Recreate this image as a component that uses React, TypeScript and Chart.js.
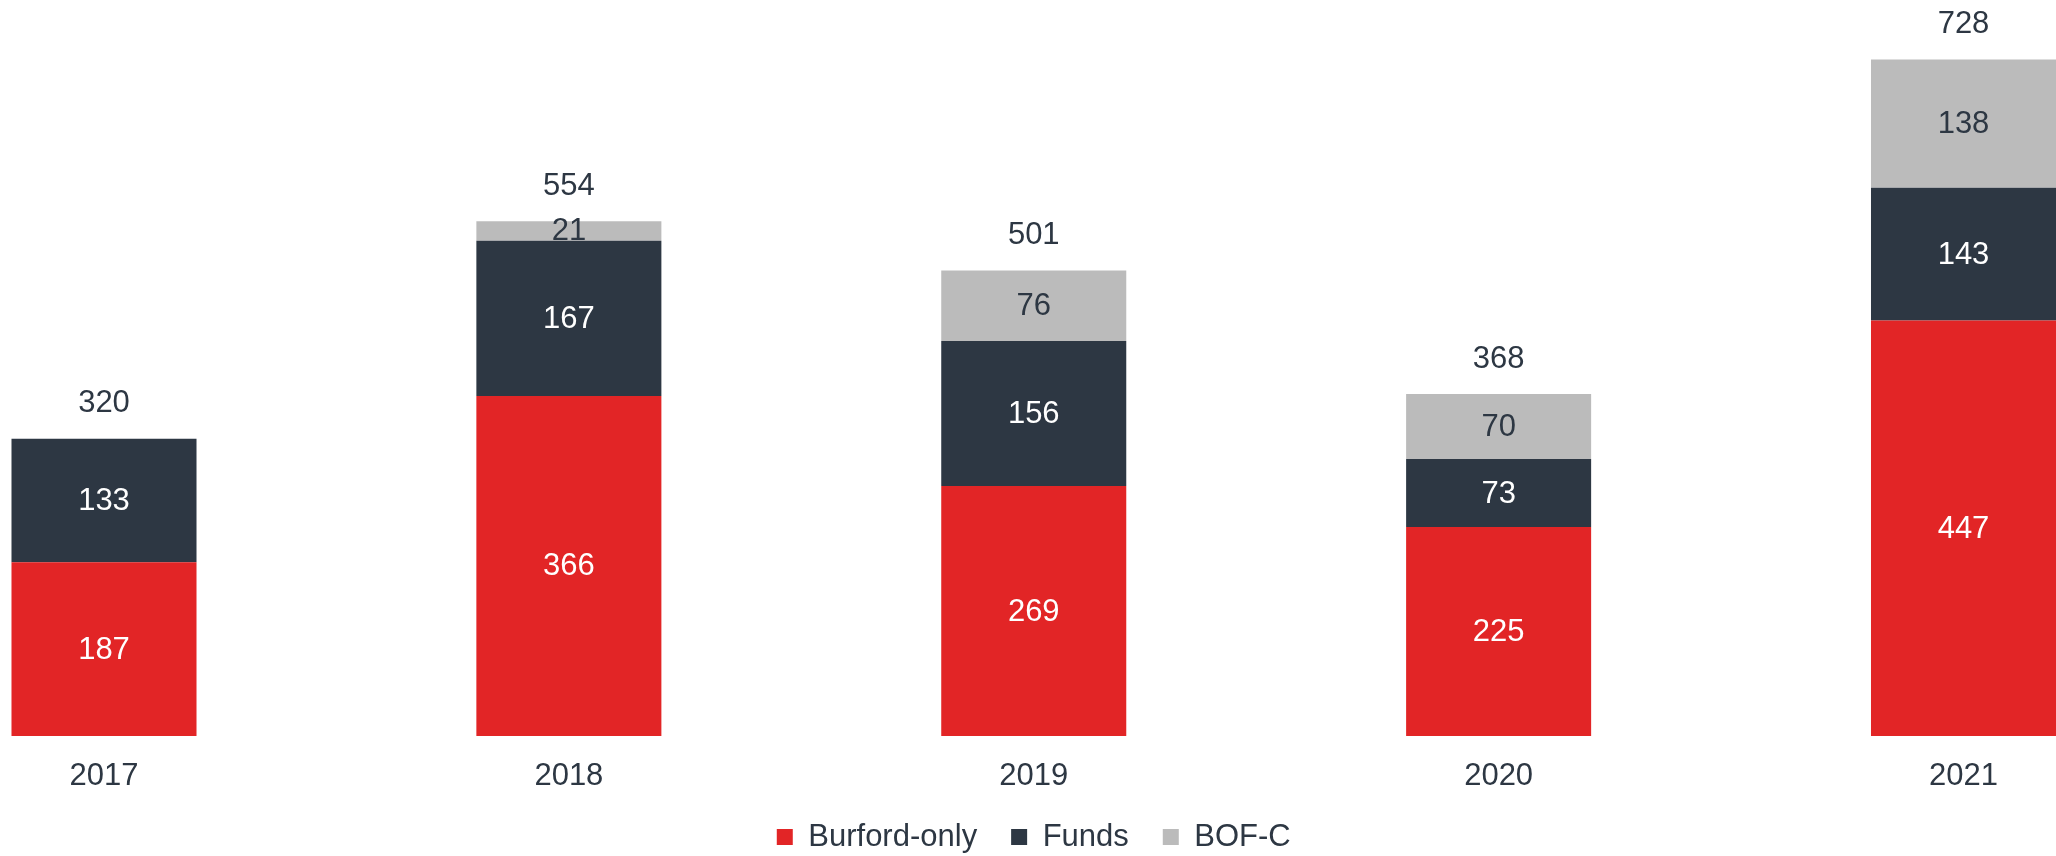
import React, { useEffect, useRef } from "react";
import { Chart, registerables } from "chart.js";

Chart.register(...registerables);

const categories = ["2017", "2018", "2019", "2020", "2021"];
const burfordOnly = [187, 366, 269, 225, 447];
const funds = [133, 167, 156, 73, 143];
const bofc = [0, 21, 76, 70, 138];

const RED = "#E22526";
const DARK = "#2D3743";
const GREY = "#BBBBBB";
const FONT = "'Liberation Sans', Arial, sans-serif";
const FS = 31;

const labelColors = ["#FFFFFF", "#FFFFFF", DARK];

const valueLabels = {
  id: "valueLabels",
  afterDatasetsDraw(chart: any) {
    const ctx = chart.ctx;
    ctx.save();
    ctx.font = `${FS}px ${FONT}`;
    ctx.textAlign = "center";
    ctx.textBaseline = "middle";
    chart.data.datasets.forEach((ds: any, di: number) => {
      const meta = chart.getDatasetMeta(di);
      meta.data.forEach((bar: any, i: number) => {
        const v = ds.data[i];
        if (!v) return;
        const { x, y, base } = bar.getProps(["x", "y", "base"], true);
        ctx.fillStyle = labelColors[di];
        ctx.fillText(String(v), x, (y + base) / 2 + 1);
      });
    });
    ctx.fillStyle = DARK;
    categories.forEach((_c, i) => {
      const total = burfordOnly[i] + funds[i] + bofc[i];
      const yTop = chart.scales.y.getPixelForValue(total);
      const x = chart.scales.x.getPixelForValue(i);
      ctx.fillText(String(total), x, yTop - 35);
    });
    ctx.restore();
  },
};

export default function App() {
  const ref = useRef<HTMLCanvasElement>(null);
  useEffect(() => {
    if (!ref.current) return;
    const chart = new Chart(ref.current, {
      type: "bar",
      data: {
        labels: categories,
        datasets: [
          { label: "Burford-only", data: burfordOnly, backgroundColor: RED, clip: false as any },
          { label: "Funds", data: funds, backgroundColor: DARK, clip: false as any },
          { label: "BOF-C", data: bofc, backgroundColor: GREY, clip: false as any },
        ],
      },
      options: {
        animation: false,
        responsive: true,
        maintainAspectRatio: false,
        layout: { padding: { left: 104, right: 92.5, top: 0, bottom: -6.5 } },
        datasets: { bar: { categoryPercentage: 1, barPercentage: 0.398 } },
        scales: {
          x: {
            stacked: true,
            offset: false,
            grid: { display: false, drawTicks: false },
            border: { display: false },
            ticks: { color: DARK, font: { size: FS, family: FONT }, padding: 22, maxRotation: 0 },
            afterFit: (scale: any) => {
              scale.height = 51.5;
            },
          },
          y: {
            stacked: true,
            display: false,
            min: 0,
            max: 792,
          },
        },
        plugins: {
          legend: {
            position: "bottom",
            labels: {
              boxWidth: 16,
              boxHeight: 16,
              padding: 34,
              color: DARK,
              font: { size: FS, family: FONT },
            },
          },
          tooltip: { enabled: false },
        },
      },
      plugins: [valueLabels],
    });
    return () => chart.destroy();
  }, []);
  return (
    <div style={{ position: "absolute", left: 0, top: 0, width: 2056, height: 856 }}>
      <canvas ref={ref} />
    </div>
  );
}
